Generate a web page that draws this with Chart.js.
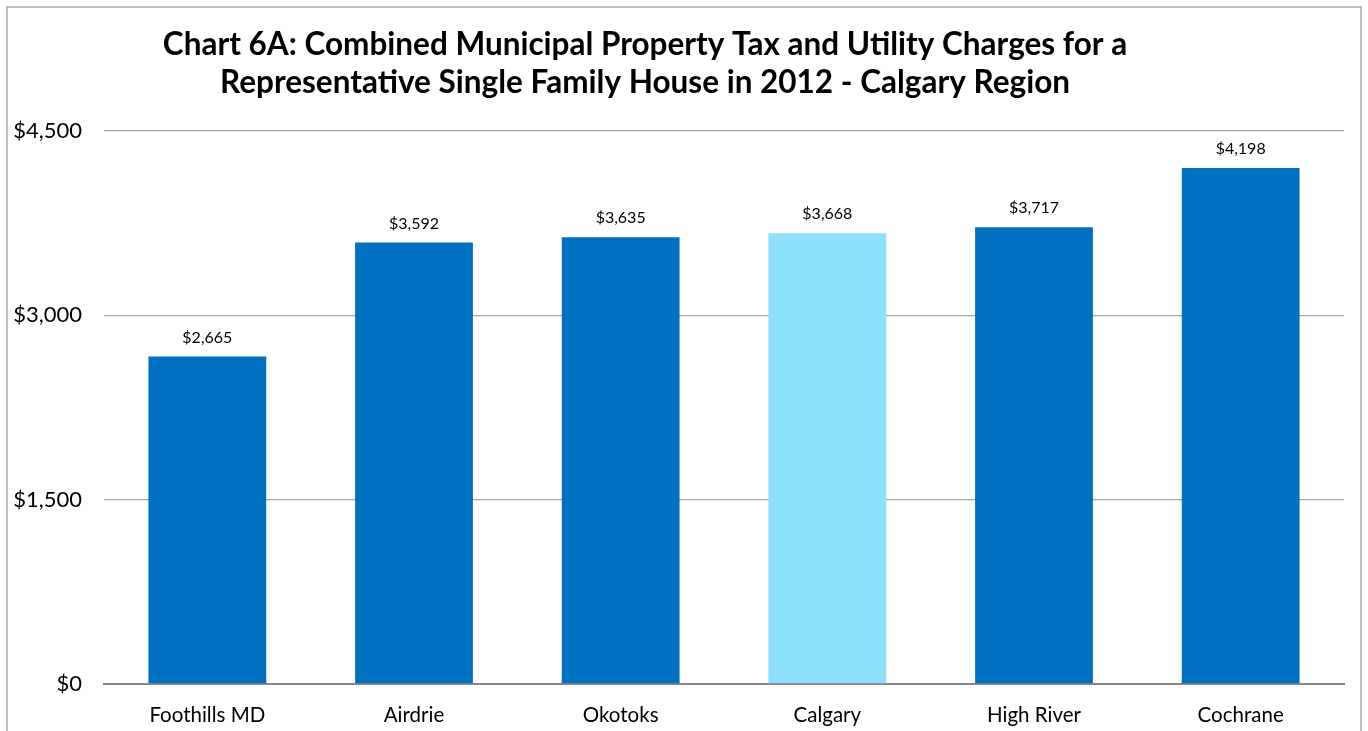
<!DOCTYPE html>
<html>
<head>
<meta charset="utf-8">
<script src="https://cdn.jsdelivr.net/npm/chart.js@4.4.0/dist/chart.umd.min.js"></script>
<style>
  html, body { margin: 0; padding: 0; background: #fff; }
  #wrap { width: 1368px; height: 731px; position: relative; }
</style>
</head>
<body>
<div id="wrap"><canvas id="myChart"></canvas></div>
<script>
const towns = ["Foothills MD", "Airdrie", "Okotoks", "Calgary", "High River", "Cochrane"];
const charges = [2665, 3592, 3635, 3668, 3717, 4198];
const barColors = ["#0070C0", "#0070C0", "#0070C0", "#8DE0FB", "#0070C0", "#0070C0"];
const titleLines = [
  "Chart 6A: Combined Municipal Property Tax and Utility Charges for a",
  "Representative Single Family House in 2012 - Calgary Region"
];

const FONT = "Lato, 'Open Sans', sans-serif";

function money(v) {
  return "$" + v.toLocaleString("en-US");
}

// frame, title and the value above each bar
const extras = {
  id: "extras",
  beforeDraw(chart) {
    const c = chart.ctx;
    c.save();
    c.fillStyle = "#fff";
    c.fillRect(0, 0, chart.width, chart.height);
    c.strokeStyle = "#A6A6A6";
    c.lineWidth = 1.5;
    c.strokeRect(7, 7, 1354, 740);
    c.restore();
  },
  afterDatasetsDraw(chart) {
    const c = chart.ctx;
    c.save();
    c.fillStyle = "#000";
    c.textAlign = "center";
    c.textBaseline = "middle";
    c.font = "bold 31.5px " + FONT;
    c.fillText(titleLines[0], 645, 45);
    c.fillText(titleLines[1], 645, 83);
    c.font = "16px " + FONT;
    const meta = chart.getDatasetMeta(0);
    meta.data.forEach(function(bar, i) {
      c.fillText(money(charges[i]), bar.x, bar.y - 19);
    });
    c.restore();
  }
};

new Chart("myChart", {
  type: "bar",
  data: {
    labels: towns,
    datasets: [{
      data: charges,
      backgroundColor: barColors,
      borderWidth: 0,
      categoryPercentage: 1,
      barPercentage: 0.57
    }]
  },
  options: {
    responsive: true,
    maintainAspectRatio: false,
    animation: false,
    layout: { padding: { top: 131, right: 24, left: 0, bottom: 0 } },
    plugins: {
      legend: { display: false },
      tooltip: { enabled: false }
    },
    scales: {
      x: {
        grid: { display: false, drawTicks: false },
        border: { color: "#868686", width: 2 },
        ticks: { color: "#000", font: { family: FONT, size: 20.5 }, padding: 19 },
        afterFit(s) { s.height = 47; }
      },
      y: {
        min: 0,
        max: 4500,
        grid: { color: "#A6A6A6", lineWidth: 1.3, drawTicks: false },
        border: { display: false },
        ticks: {
          stepSize: 1500,
          color: "#000",
          padding: 22,
          font: { family: FONT, size: 22 },
          callback: function(v) { return money(v); }
        },
        afterFit(s) { s.width = 104; }
      }
    }
  },
  plugins: [extras]
});
</script>
</body>
</html>
